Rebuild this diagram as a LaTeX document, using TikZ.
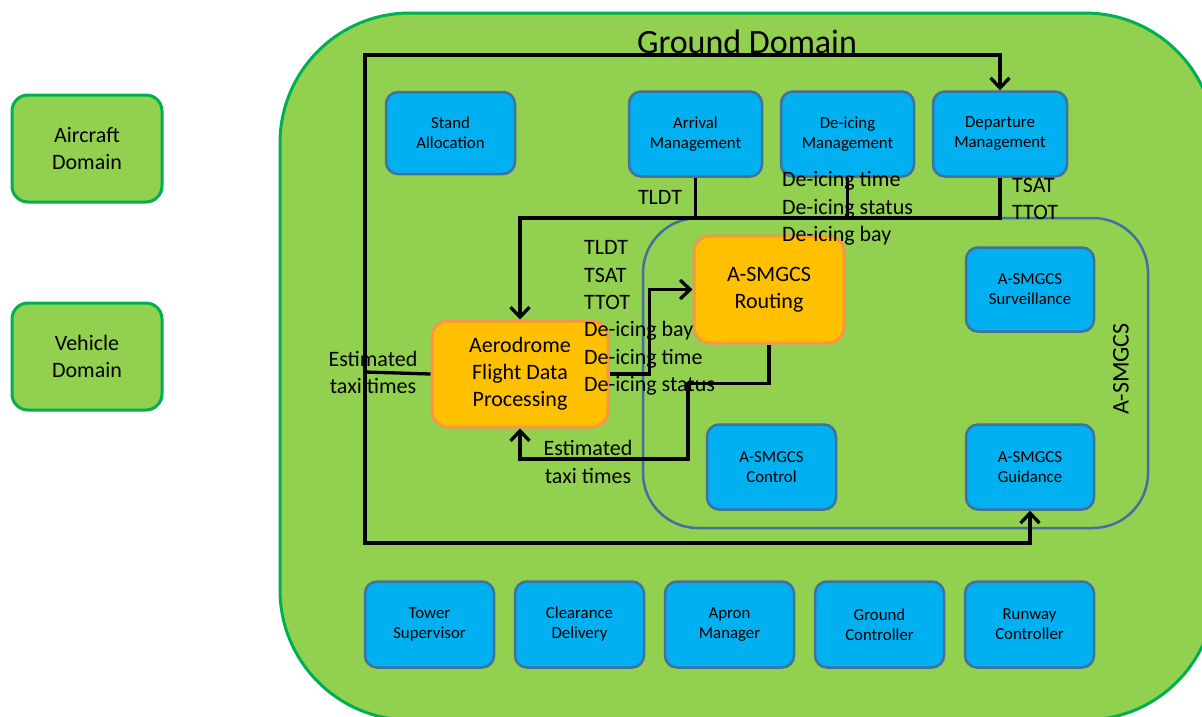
\documentclass[tikz,border=0pt]{standalone}
\usepackage{fontspec}
\setmainfont{Carlito}
\usetikzlibrary{arrows.meta}
\definecolor{grass}{HTML}{92D050}
\definecolor{grassline}{HTML}{00B050}
\definecolor{sky}{HTML}{00B0F0}
\definecolor{skyline}{HTML}{41719C}
\definecolor{amber}{HTML}{FFC000}
\definecolor{amberline}{HTML}{F79646}

\begin{document}
\begin{tikzpicture}[x=1pt,y=-1pt]
    \tikzset{%
      realmbox/.style={draw=grassline, fill=grass, line width=3pt,
        rounded corners=16pt, minimum width=150pt, minimum height=107pt,
        align=center, font=\fontsize{22}{27}\selectfont},
      unitbox/.style={draw=skyline, fill=sky, line width=2.5pt,
        rounded corners=12pt, minimum width=129pt, minimum height=85pt,
        align=center, font=\fontsize{16.8}{20}\selectfont},
      corebox/.style={draw=amberline, fill=amber, line width=3pt,
        rounded corners=16pt, align=center,
        font=\fontsize{22}{27}\selectfont},
      flow/.style={line width=3.3pt, black},
      tip/.style={-{Straight Barb[length=10pt,width=19pt]}},
      lbl/.style={inner sep=0pt, align=left,
        font=\fontsize{22}{27.4}\selectfont},
    }
    \useasboundingbox (0,0) rectangle (1202,716);
    \fill[white] (0,0) rectangle (1202,716);
    \clip (0,0) rectangle (1202,716);

    % outer domains
    \node[realmbox] (air) at (87,148.5) {Aircraft\\Domain};
    \node[realmbox] (veh) at (87,356.5) {Vehicle\\Domain};
    \draw[grassline, fill=grass, line width=3pt, rounded corners=130pt]
      (280,13) rectangle (1215,720);
    \node[font=\fontsize{34}{40}\selectfont] (gnd) at (747,42) {Ground Domain};

    % A-SMGCS group
    \draw[skyline, line width=2.5pt, rounded corners=55pt]
      (643,218) rectangle (1148,528);
    \node[rotate=90, font=\fontsize{24}{28}\selectfont] (asm) at (1121,369) {A-SMGCS};

    % top row
    \node[unitbox, minimum width=129pt, minimum height=82pt] (stand) at (450.5,133) {Stand\\Allocation};
    \node[unitbox, minimum width=133pt] (arrm) at (695.5,134) {Arrival\\Management};
    \node[unitbox, minimum width=133pt] (dei) at (847.5,134) {De-icing\\Management};
    \node[unitbox, minimum width=134pt] (dep) at (1000,134) {Departure\\Management};

    % A-SMGCS units
    \node[unitbox, minimum width=128pt, minimum height=84pt] (surv) at (1030,289.5) {A-SMGCS\\Surveillance};
    \node[unitbox] (ctrl) at (771.5,467) {A-SMGCS\\Control};
    \node[unitbox, minimum width=128pt] (guid) at (1030,467) {A-SMGCS\\Guidance};

    % bottom row
    \node[unitbox, minimum height=86pt] (tower) at (429.5,624.5) {Tower\\Supervisor};
    \node[unitbox, minimum height=86pt] (clear) at (579.5,624.5) {Clearance\\Delivery};
    \node[unitbox, minimum height=86pt] (apron) at (729.5,624.5) {Apron\\Manager};
    \node[unitbox, minimum height=86pt] (ground) at (879.5,624.5) {Ground\\Controller};
    \node[unitbox, minimum height=86pt] (runway) at (1029.5,624.5) {Runway\\Controller};

    % processing
    \node[corebox, minimum width=150pt, minimum height=107pt] (rout) at (769,289.5) {A-SMGCS\\Routing};
    \node[corebox, minimum width=176pt, minimum height=106pt] (afdp) at (520,374) {Aerodrome\\Flight Data\\Processing};

    % estimated taxi times out of AFDP
    \coordinate (trunk) at (365,372);
    \coordinate (trunktop) at (365,55);
    \coordinate (trunkbot) at (365,543);
    \draw[flow] (afdp.west) -- (trunk);
    \draw[flow, tip] (trunk) -- (trunktop) -| (dep.north);
    \draw[flow, tip] (trunk) -- (trunkbot) -| (guid.south);
    \node[lbl, align=center] (etleft) at (373,372.5) {Estimated\\taxi times};

    % times collected into AFDP
    \coordinate (bus) at (0,218);
    \draw[flow] (arrm.south) -- (arrm.south |- bus);
    \draw[flow] (dei.south) -- (dei.south |- bus);
    \draw[flow, tip] (dep.south) |- (afdp.north |- bus) -- (afdp.north);
    \node[lbl] (tldt) at (660,197) {TLDT};
    \node[lbl, anchor=west] (deil) at (782,208.5) {De-icing time\\De-icing status\\De-icing bay};
    \node[lbl, anchor=west] (depl) at (1012,199) {TSAT\\TTOT};

    % AFDP to routing and back
    \coordinate (ret) at (688,459);
    \draw[flow, tip] (afdp.east) -| ([xshift=-43pt]rout.west) -- (rout.west);
    \draw[flow, tip] (rout.south) -- ++(0,39) -| (ret) -| (afdp.south);
    \node[lbl, anchor=west] (afdpl) at (584,318) {TLDT\\TSAT\\TTOT\\De-icing bay\\De-icing time\\De-icing status};
    \node[lbl, align=center] (etbot) at (588,462) {Estimated\\taxi times};
\end{tikzpicture}
\end{document}
